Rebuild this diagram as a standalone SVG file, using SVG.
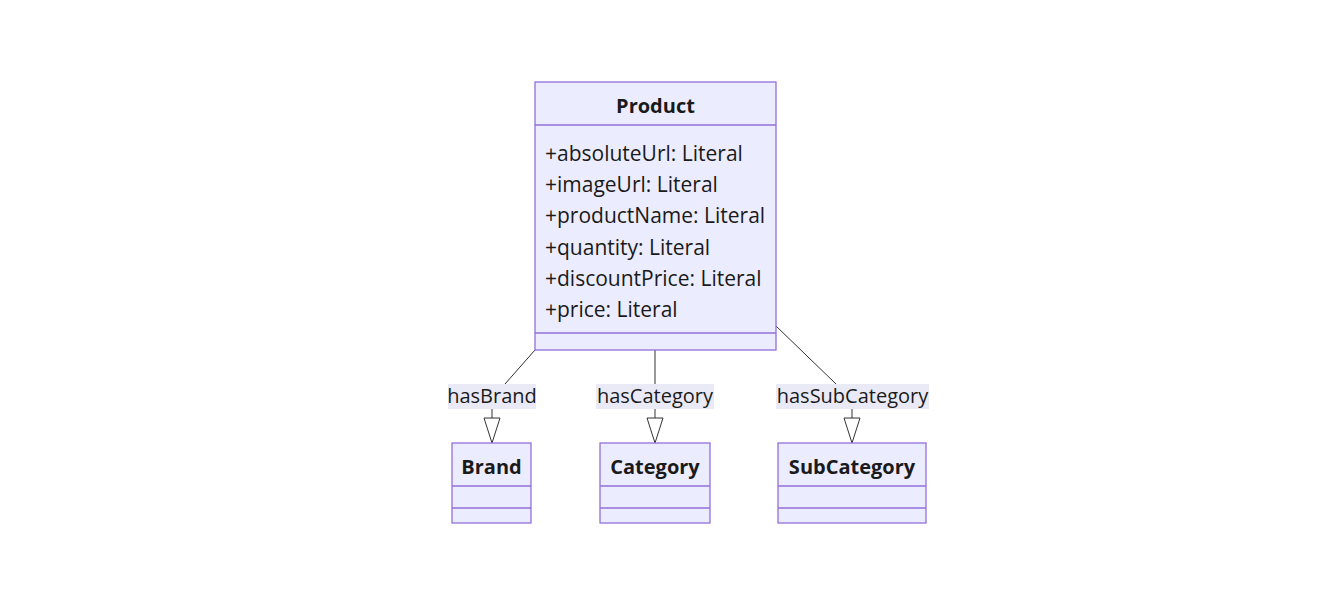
<svg xmlns="http://www.w3.org/2000/svg" width="1343" height="600" viewBox="0 0 1343 600">
<style>
.box{fill:#ECECFF;stroke:#9370DB;stroke-width:1.3}
.div{stroke:#9370DB;stroke-width:1.3}
.t{font-family:"Open Sans","DejaVu Sans",sans-serif;font-size:20px;fill:#1a1a1a}
.a{font-family:"Open Sans","DejaVu Sans",sans-serif;font-size:21px;fill:#1a1a1a}
.h{font-family:"Open Sans","DejaVu Sans",sans-serif;font-size:20px;font-weight:bold;fill:#1a1a1a}
.ln{stroke:#333;stroke-width:1;fill:none}
.lb{fill:#E8E8F6;opacity:0.9}
</style>
<rect width="1343" height="600" fill="#fff"/>
<g id="connectors">
<line class="ln" x1="535" y1="350" x2="505" y2="384"/>
<line class="ln" x1="492" y1="409" x2="492" y2="418"/>
<path d="M484,418 L500,418 L492,443 Z" fill="#fff" stroke="#333"/>
<line class="ln" x1="655" y1="350" x2="655" y2="384"/>
<line class="ln" x1="655" y1="409" x2="655" y2="418"/>
<path d="M647,418 L663,418 L655,443 Z" fill="#fff" stroke="#333"/>
<line class="ln" x1="776" y1="326" x2="836" y2="384"/>
<line class="ln" x1="852" y1="409" x2="852" y2="418"/>
<path d="M844,418 L860,418 L852,443 Z" fill="#fff" stroke="#333"/>
<g id="labels">
<rect class="lb" x="448" y="384" width="88" height="25"/>
<text class="t" x="492" y="403" text-anchor="middle">hasBrand</text>
<rect class="lb" x="596" y="384" width="118" height="25"/>
<text class="t" x="655" y="403" text-anchor="middle">hasCategory</text>
<rect class="lb" x="776" y="384" width="153" height="25"/>
<text class="t" x="852.500" y="403" text-anchor="middle">hasSubCategory</text>
</g>
</g>
<g id="Product">
<rect class="box" x="535" y="82" width="241" height="268"/>
<line class="div" x1="535" y1="125" x2="776" y2="125"/>
<line class="div" x1="535" y1="333" x2="776" y2="333"/>
<text class="h" x="655.500" y="113" text-anchor="middle">Product</text>
<text class="a" x="545" y="161">+absoluteUrl: Literal</text>
<text class="a" x="545" y="192">+imageUrl: Literal</text>
<text class="a" x="545" y="223">+productName: Literal</text>
<text class="a" x="545" y="255">+quantity: Literal</text>
<text class="a" x="545" y="286">+discountPrice: Literal</text>
<text class="a" x="545" y="317">+price: Literal</text>
</g>
<g id="Brand">
<rect class="box" x="452" y="443" width="79" height="80"/>
<line class="div" x1="452" y1="486" x2="531" y2="486"/>
<line class="div" x1="452" y1="508" x2="531" y2="508"/>
<text class="h" x="491.500" y="474" text-anchor="middle">Brand</text>
</g>
<g id="Category">
<rect class="box" x="600" y="443" width="110" height="80"/>
<line class="div" x1="600" y1="486" x2="710" y2="486"/>
<line class="div" x1="600" y1="508" x2="710" y2="508"/>
<text class="h" x="655" y="474" text-anchor="middle">Category</text>
</g>
<g id="SubCategory">
<rect class="box" x="778" y="443" width="148" height="80"/>
<line class="div" x1="778" y1="486" x2="926" y2="486"/>
<line class="div" x1="778" y1="508" x2="926" y2="508"/>
<text class="h" x="852" y="474" text-anchor="middle">SubCategory</text>
</g>
</svg>
